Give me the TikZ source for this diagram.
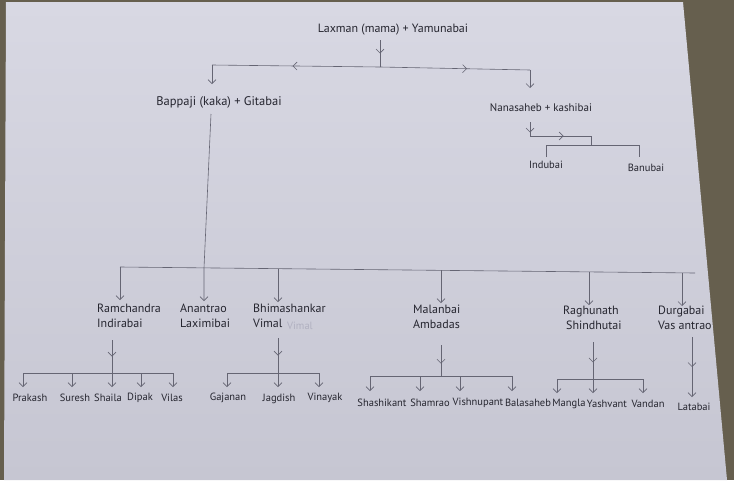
\documentclass[tikz,border=0pt]{standalone}
\usepackage{fontspec}
\setmainfont{PT Sans}
\usetikzlibrary{arrows.meta,decorations.markings}
\definecolor{paperT}{HTML}{D8D8E3}
\definecolor{paperB}{HTML}{C6C6D2}
\definecolor{tablec}{HTML}{665F4E}
\definecolor{ink}{HTML}{25252F}
\definecolor{pencil}{HTML}{656573}
\definecolor{faint}{HTML}{B0B0C0}
\tikzset{
  pen/.style={color=pencil, line width=0.6pt},
  tip/.style={-{Straight Barb[length=4pt,width=8pt]}},
  midarrow/.style={postaction={decorate}, decoration={markings, mark=at position #1 with {\arrow{Straight Barb[length=4pt,width=8pt]}}}},
  lbl/.style={text=ink, font=\fontsize{10.5}{13}\selectfont, inner sep=0pt},
  couple/.style={lbl, font=\fontsize{12}{14.5}\selectfont, align=left, anchor=north west},
}
\begin{document}
\begin{tikzpicture}[x=1pt,y=-1pt]
\useasboundingbox (0,0) rectangle (734,480);
\fill[tablec] (0,0) rectangle (734,480);
\shade[top color=paperT, bottom color=paperB] (6,2) -- (683,2) -- (727,480) -- (4,480) -- cycle;

% generation 1
\node[lbl, font=\fontsize{12}{14}\selectfont] (laxman) at (393,30) {Laxman (mama) + Yamunabai};
\coordinate (lxS) at (380,40);
\coordinate (lxJ) at (380,67);
\coordinate (lxL) at (212,65);
\coordinate (lxR) at (530,70);
\coordinate (bpT) at (212,84);
\coordinate (nnT) at (530,88);
\draw[pen, midarrow=0.5] (lxS) -- (lxJ);
\draw[pen, midarrow=0.52] (lxJ) -- (lxL);
\draw[pen, midarrow=0.58] (lxJ) -- (lxR);
\draw[pen, tip] (lxL) -- (bpT);
\draw[pen, tip] (lxR) -- (nnT);

% generation 2
\node[lbl, font=\fontsize{12.5}{14}\selectfont] (bappaji) at (219,102) {Bappaji (kaka) + Gitabai};
\node[lbl, font=\fontsize{11}{13}\selectfont] (nana) at (541,108) {Nanasaheb + kashibai};

% Nanasaheb children
\coordinate (nnS) at (530,122);
\coordinate (nnJ) at (530,136);
\coordinate (nnK) at (591,136);
\coordinate (nnM) at (591,145);
\coordinate (nnA) at (546,145);
\coordinate (nnB) at (639,145);
\coordinate (inT) at (546,157);
\coordinate (bnT) at (639,157);
\draw[pen, midarrow=0.75] (nnS) -- (nnJ);
\draw[pen, midarrow=0.55] (nnJ) -- (nnK);
\draw[pen] (nnK) -- (nnM);
\draw[pen] (inT) -- (nnA) -- (nnB) -- (bnT);
\node[lbl] (indu) at (546,165) {Indubai};
\node[lbl] (banu) at (646,168) {Banubai};

% Bappaji children
\coordinate (bpS) at (211,114);
\coordinate (g3L) at (120,267);
\coordinate (g3R) at (695,273);
\coordinate (anJ) at (204,268);
\coordinate (anT) at (204,301);
\draw[pen, tip] (bpS) -- (anJ) -- (anT);
\draw[pen] (g3L) -- (g3R);
\coordinate (rmT) at (120,300);
\coordinate (bhJ) at (278,268.7);
\coordinate (bhT) at (278,302);
\coordinate (mlJ) at (441,270.4);
\coordinate (mlT) at (441,303);
\coordinate (rgJ) at (589,271.9);
\coordinate (rgT) at (589,305);
\coordinate (dgJ) at (682,272.9);
\coordinate (dgT) at (682,306);
\draw[pen, tip] (g3L) -- (rmT);
\draw[pen, tip] (bhJ) -- (bhT);
\draw[pen, tip] (mlJ) -- (mlT);
\draw[pen, tip] (rgJ) -- (rgT);
\draw[pen, tip] (dgJ) -- (dgT);

% generation 3
\node[couple] (ram) at (97,304) {Ramchandra\\Indirabai};
\node[couple] (anan) at (180,304) {Anantrao\\Laximibai};
\node[couple] (bhim) at (253,304) {Bhimashankar\\Vimal};
\node[lbl, text=faint, anchor=west] (smudge) at (287,326) {Vimal};
\node[couple] (mala) at (413,305) {Malanbai\\Ambadas};
\node[couple] (ragh) at (563,306) {Raghunath\\\hspace*{3pt}Shindhutai};
\node[couple] (durg) at (658,306) {Durgabai\\Vas antrao};

% Ramchandra children
\coordinate (rmS) at (112,340);
\coordinate (rmJ) at (112,373);
\coordinate (rmA) at (23,373);
\coordinate (rmE) at (173,373);
\draw[pen, midarrow=0.5] (rmS) -- (rmJ);
\draw[pen, tip] (rmJ) -- (112,387) coordinate (shT);
\draw[pen, tip] (rmA) -- (23,387) coordinate (prT);
\draw[pen, tip] (rmE) -- (173,387) coordinate (viT);
\draw[pen] (rmA) -- (rmE);
\draw[pen, tip] (72,373) coordinate (suJ) -- (72,387) coordinate (suT);
\draw[pen, tip] (141,373) coordinate (dpJ) -- (141,387) coordinate (dpT);
\node[lbl] (prakash) at (30,398) {Prakash};
\node[lbl] (suresh) at (75,398) {Suresh};
\node[lbl] (shaila) at (108,398) {Shaila};
\node[lbl] (dipak) at (140,398) {Dipak};
\node[lbl] (vilas) at (172,398) {Vilas};

% Bhimashankar children
\coordinate (bhS) at (278,338);
\coordinate (bhK) at (278,373);
\coordinate (bhA) at (227,373);
\coordinate (bhE) at (319,373);
\draw[pen, midarrow=0.5] (bhS) -- (bhK);
\draw[pen, tip] (bhK) -- (278,387) coordinate (jgT);
\draw[pen] (bhA) -- (bhE);
\draw[pen, tip] (bhA) -- (227,387) coordinate (gjT);
\draw[pen, tip] (bhE) -- (319,387) coordinate (vnT);
\node[lbl] (gajanan) at (228,398) {Gajanan};
\node[lbl] (jagdish) at (279,399) {Jagdish};
\node[lbl] (vinayak) at (325,398) {Vinayak};

% Malanbai children
\coordinate (mlS) at (441,345);
\coordinate (mlK) at (441,376);
\coordinate (mlA) at (370,376);
\coordinate (mlE) at (512,376);
\draw[pen, midarrow=0.6] (mlS) -- (mlK);
\draw[pen] (mlA) -- (mlE);
\draw[pen, tip] (mlA) -- (370,391) coordinate (skT);
\draw[pen, tip] (420,376) coordinate (srJ) -- (420,391) coordinate (srT);
\draw[pen, tip] (460,376) coordinate (vpJ) -- (460,391) coordinate (vpT);
\draw[pen, tip] (mlE) -- (512,391) coordinate (bsT);
\node[lbl] (shashikant) at (382,403) {Shashikant};
\node[lbl] (shamrao) at (430,403) {Shamrao};
\node[lbl] (vishnupant) at (478,403) {Vishnupant};
\node[lbl] (balasaheb) at (528,403) {Balasaheb};

% Raghunath children
\coordinate (rgS) at (593,342);
\coordinate (rgK) at (593,379);
\coordinate (rgA) at (557,379);
\coordinate (rgE) at (643,379);
\draw[pen, midarrow=0.55] (rgS) -- (rgK);
\draw[pen, tip] (rgK) -- (593,393) coordinate (ysT);
\draw[pen] (rgA) -- (rgE);
\draw[pen, tip] (rgA) -- (557,393) coordinate (mgT);
\draw[pen, tip] (rgE) -- (643,393) coordinate (vdT);
\node[lbl] (mangla) at (569,404) {Mangla};
\node[lbl] (yashvant) at (607,404) {Yashvant};
\node[lbl] (vandan) at (648,404) {Vandan};

% Durgabai child
\coordinate (dgS) at (692,337);
\coordinate (ltT) at (692,397);
\draw[pen, tip, midarrow=0.5] (dgS) -- (ltT);
\node[lbl] (latabai) at (694,407) {Latabai};
\end{tikzpicture}
\end{document}
